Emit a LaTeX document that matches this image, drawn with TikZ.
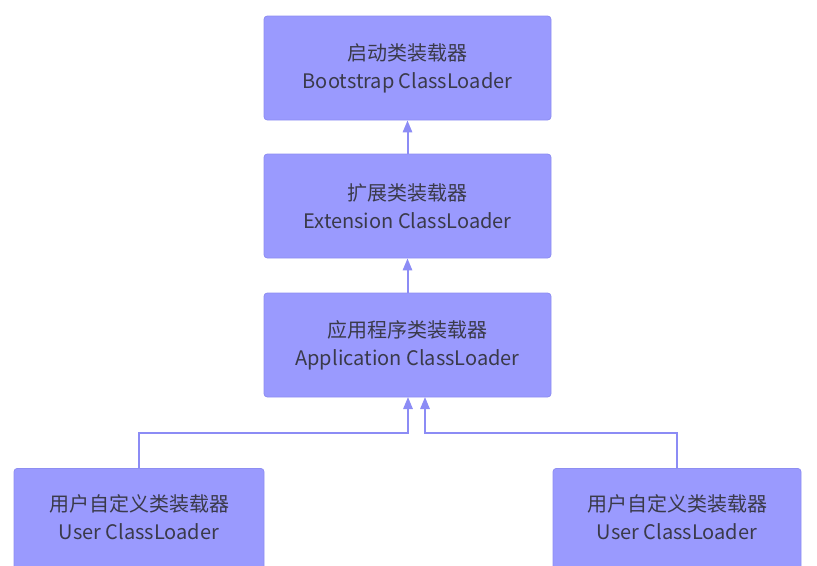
\documentclass[tikz,border=0pt]{standalone}
\usepackage{fontspec}
\setmainfont{Noto Sans CJK SC}
\usetikzlibrary{arrows.meta}
\definecolor{boxfill}{HTML}{9A9AFE}
\definecolor{boxline}{HTML}{8E8EF2}
\definecolor{txt}{HTML}{3A3A4A}
\definecolor{conn}{HTML}{8C8CF5}
\begin{document}
\begin{tikzpicture}[x=0.75pt,y=-0.75pt,
  loader/.style={draw=boxline,line width=0.6pt,fill=boxfill,rounded corners=2.5pt,
    text=txt,font=\fontsize{15}{21}\selectfont,align=center,inner sep=0pt},
  label/.style={text=txt,font=\fontsize{15}{21}\selectfont,align=center},
  conn/.style={draw=conn,line width=1.5pt},
  arr/.style={conn,-{Triangle[length=9pt,width=7pt]}}]
\useasboundingbox (0,0) rectangle (817,565);
\clip (0,0) rectangle (817,565);
\node[loader,minimum width=287*0.75pt,minimum height=104*0.75pt] (boot) at (407.5,68) {启动类装载器\\Bootstrap ClassLoader};
\node[loader,minimum width=287*0.75pt,minimum height=104*0.75pt] (ext) at (407.5,206) {扩展类装载器\\Extension ClassLoader};
\node[loader,minimum width=287*0.75pt,minimum height=104*0.75pt] (app) at (407.5,345) {应用程序类装载器\\Application ClassLoader};
\node[loader,minimum width=250*0.75pt,minimum height=112*0.75pt,anchor=north] (u1) at (139,468) {};
\node[label] (u1t) at (139,517) {用户自定义类装载器\\User ClassLoader};
\node[loader,minimum width=248*0.75pt,minimum height=112*0.75pt,anchor=north] (u2) at (677,468) {};
\node[label] (u2t) at (677,517) {用户自定义类装载器\\User ClassLoader};
\draw[arr] (ext.north) -- (boot.south);
\draw[arr] (app.north) -- (ext.south);
\coordinate (a1) at (408,397);
\coordinate (a2) at (425,397);
\draw[arr] (u1.north) |- (408,433) -- (a1);
\draw[arr] (u2.north) |- (425,433) -- (a2);
\end{tikzpicture}
\end{document}
